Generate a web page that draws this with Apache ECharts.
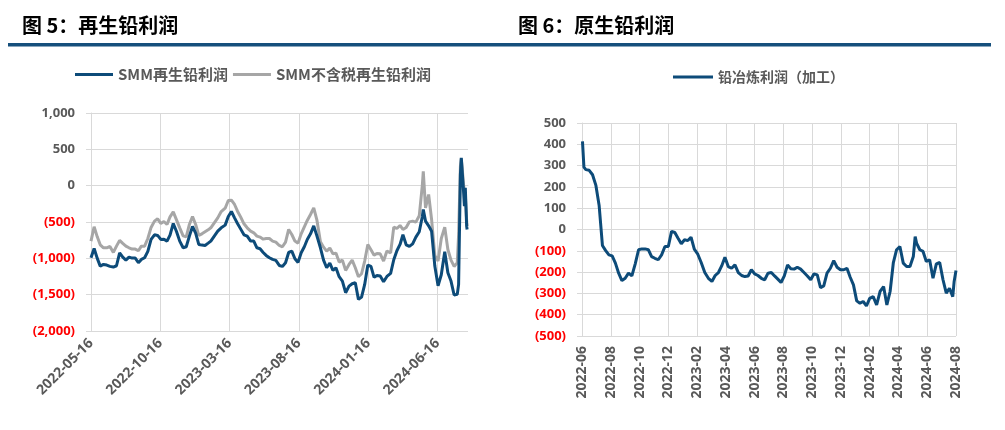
<!DOCTYPE html>
<html><head><meta charset="utf-8">
<script src="https://cdn.jsdelivr.net/npm/echarts@6/dist/echarts.min.js"></script>
<style>html,body{margin:0;padding:0;background:#fff}#c{width:1005px;height:430px}</style>
</head><body><div id="c"></div>
<script>
// ---------- Figure 5 data (weekly readings) ----------
const leftDates = [
'2022-05-16','2022-05-23','2022-05-30','2022-06-06','2022-06-13','2022-06-20','2022-06-27','2022-07-04','2022-07-11','2022-07-18',
'2022-07-25','2022-08-01','2022-08-08','2022-08-15','2022-08-22','2022-08-29','2022-09-05','2022-09-12','2022-09-19','2022-09-26',
'2022-10-03','2022-10-10','2022-10-17','2022-10-24','2022-10-31','2022-11-07','2022-11-14','2022-11-21','2022-11-28','2022-12-05',
'2022-12-12','2022-12-19','2022-12-26','2023-01-02','2023-01-09','2023-01-16','2023-01-23','2023-01-30','2023-02-06','2023-02-13',
'2023-02-20','2023-02-27','2023-03-06','2023-03-13','2023-03-20','2023-03-27','2023-04-03','2023-04-10','2023-04-17','2023-04-24',
'2023-05-01','2023-05-08','2023-05-15','2023-05-22','2023-05-29','2023-06-05','2023-06-12','2023-06-19','2023-06-26','2023-07-03',
'2023-07-10','2023-07-17','2023-07-24','2023-07-31','2023-08-07','2023-08-14','2023-08-21','2023-08-28','2023-09-04','2023-09-11',
'2023-09-18','2023-09-25','2023-10-02','2023-10-09','2023-10-16','2023-10-23','2023-10-30','2023-11-06','2023-11-13','2023-11-20',
'2023-11-27','2023-12-04','2023-12-11','2023-12-18','2023-12-25','2024-01-01','2024-01-08','2024-01-15','2024-01-22','2024-01-29',
'2024-02-05','2024-02-12','2024-02-19','2024-02-26','2024-03-04','2024-03-11','2024-03-18','2024-03-25','2024-04-01','2024-04-08',
'2024-04-15','2024-04-22','2024-04-29','2024-05-06','2024-05-13','2024-05-15','2024-05-20','2024-05-27','2024-06-03','2024-06-10','2024-06-17',
'2024-06-24','2024-07-01','2024-07-08','2024-07-15','2024-07-22',
'2024-07-29','2024-08-01','2024-08-05','2024-08-07','2024-08-09','2024-08-12','2024-08-14','2024-08-16','2024-08-19','2024-08-20'
];
const smmProfit = [
-992,-864,-1001,-1107,-1084,-1093,-1111,-1120,-1102,-924,
-983,-1024,-983,-997,-997,-1061,-1015,-992,-905,-740,
-676,-685,-740,-736,-763,-681,-520,-630,-763,-855,
-841,-694,-562,-653,-809,-818,-823,-791,-763,-694,
-626,-580,-543,-424,-356,-443,-520,-598,-676,-694,
-763,-763,-855,-868,-919,-960,-992,-1015,-1029,-1098,
-1111,-1061,-919,-900,-1006,-1056,-924,-841,-740,-663,
-553,-694,-855,-1024,-1130,-1065,-1166,-1130,-1253,-1313,
-1473,-1382,-1349,-1336,-1565,-1533,-1359,-1093,-1111,-1262,
-1235,-1244,-1322,-1249,-1207,-1020,-896,-809,-676,-814,
-836,-800,-708,-635,-420,-328,-488,-553,-626,-1107,-1377,
-1226,-910,-1198,-1313,-1505,
-1496,-1359,153,382,391,-76,-282,-30,-557,-603
];
const smmProfitExTax = [
-763,-566,-704,-814,-855,-855,-836,-919,-832,-754,
-795,-832,-855,-873,-873,-896,-832,-832,-727,-575,
-488,-456,-520,-493,-534,-429,-360,-470,-580,-690,
-704,-534,-424,-534,-685,-663,-635,-608,-580,-511,
-443,-356,-310,-204,-200,-259,-351,-433,-525,-580,
-626,-649,-694,-708,-736,-727,-727,-763,-777,-823,
-841,-777,-603,-672,-763,-791,-663,-566,-479,-397,
-305,-479,-772,-846,-900,-859,-937,-928,-1052,-1024,
-1166,-1084,-1024,-1130,-1253,-1212,-1038,-809,-882,-956,
-933,-937,-1038,-900,-924,-571,-589,-548,-603,-575,
-498,-488,-502,-415,15,198,-305,-122,-465,-960,-1038,
-727,-571,-878,-1024,-1111,
-1061,-672,267,373,244,15,-76,-122,-489,-557
];
const leftTickLabels = ['2022-05-16','2022-10-16','2023-03-16','2023-08-16','2024-01-16','2024-06-16'];
const leftAxisEnd = '2024-08-22';

// ---------- Figure 6 data (weekly readings) ----------
const rightDates = [
'2022-06-02','2022-06-05','2022-06-09','2022-06-16','2022-06-23','2022-06-30','2022-07-07','2022-07-14','2022-07-21','2022-07-28',
'2022-08-04','2022-08-11','2022-08-18','2022-08-25','2022-09-01','2022-09-08','2022-09-15','2022-09-22','2022-09-29','2022-10-06',
'2022-10-13','2022-10-20','2022-10-27','2022-11-03','2022-11-10','2022-11-17','2022-11-24','2022-12-01','2022-12-08','2022-12-15',
'2022-12-22','2022-12-29','2023-01-05','2023-01-12','2023-01-19','2023-01-26','2023-02-02','2023-02-09','2023-02-16','2023-02-23',
'2023-03-02','2023-03-09','2023-03-16','2023-03-23','2023-03-30','2023-04-06','2023-04-13','2023-04-20','2023-04-27','2023-05-04',
'2023-05-11','2023-05-18','2023-05-25','2023-06-01','2023-06-08','2023-06-15','2023-06-22','2023-06-29','2023-07-06','2023-07-13',
'2023-07-20','2023-07-27','2023-08-03','2023-08-10','2023-08-17','2023-08-24','2023-08-31','2023-09-07','2023-09-14','2023-09-21',
'2023-09-28','2023-10-05','2023-10-12','2023-10-19','2023-10-26','2023-11-02','2023-11-09','2023-11-16','2023-11-23','2023-11-30',
'2023-12-07','2023-12-14','2023-12-21','2023-12-28','2024-01-04','2024-01-11','2024-01-18','2024-01-25','2024-02-01','2024-02-08',
'2024-02-15','2024-02-22','2024-02-29','2024-03-07','2024-03-14','2024-03-21','2024-03-28','2024-04-04','2024-04-11','2024-04-18',
'2024-04-25','2024-05-02','2024-05-06','2024-05-09','2024-05-16','2024-05-23','2024-05-30','2024-06-06','2024-06-13','2024-06-20',
'2024-06-27','2024-07-04','2024-07-11','2024-07-18','2024-07-25','2024-07-28','2024-08-01'
];
const smeltProfit = [
414,293,281,278,257,207,111,-75,-99,-119,
-124,-158,-205,-240,-229,-205,-218,-161,-95,-91,
-91,-95,-127,-135,-142,-119,-80,-80,-9,-14,
-41,-67,-48,-52,-36,-92,-114,-155,-202,-229,
-244,-216,-202,-171,-130,-174,-182,-166,-202,-216,
-221,-218,-189,-208,-216,-229,-236,-205,-202,-218,
-233,-249,-218,-166,-184,-186,-177,-186,-202,-218,
-236,-208,-213,-273,-265,-205,-182,-146,-177,-189,
-189,-182,-224,-260,-335,-346,-338,-359,-323,-315,
-354,-291,-268,-354,-291,-155,-95,-80,-158,-174,
-174,-127,-33,-64,-95,-103,-150,-142,-229,-161,
-155,-236,-299,-276,-315,-244,-193
];
const rightTickLabels = ['2022-06','2022-08','2022-10','2022-12','2023-02','2023-04','2023-06','2023-08','2023-10','2023-12','2024-02','2024-04','2024-06','2024-08'];

// ---------- helpers ----------
function daysIn(y, m) { return new Date(y, m, 0).getDate(); }
function monthOffset(s, y0, m0, d0) {
  const p = s.split('-').map(Number);
  return (p[0] - y0) * 12 + (p[1] - m0) + (p[2] - d0) / daysIn(p[0], p[1]);
}
const lm = s => monthOffset(s, 2022, 5, 16);
const rm = s => monthOffset(s, 2022, 6, 1);
function commas(n) { return String(n).replace(/\B(?=(\d{3})+(?!\d))/g, ','); }
function yFmt(v) { const a = commas(Math.abs(v)); return v < 0 ? '{n|(' + a + ')}' : '{p|' + a + '}'; }

const GRAY_TXT = '#595959';
const GRID_C = '#D9D9D9';
const BLUE = '#0D4B79';
const LGRAY = '#A6A6A6';
const NUMFONT = 'Open Sans';
const CJK = 'Noto Sans CJK SC';
const richY = {
  p: { color: GRAY_TXT, fontSize: 13, fontWeight: 'bold', fontFamily: NUMFONT },
  n: { color: '#FF0000', fontSize: 13, fontWeight: 'bold', fontFamily: NUMFONT }
};

const chart = echarts.init(document.getElementById('c'), null, { renderer: 'canvas' });
chart.setOption({
  animation: false,
  backgroundColor: '#fff',
  graphic: [
    { type: 'rect', shape: { x: 8, y: 43, width: 983, height: 3.5 }, style: { fill: '#154F7C' } },
    { type: 'text', left: 22, top: 15, style: { text: '图 5：再生铅利润', font: 'bold 20px "Noto Sans CJK SC"', fill: '#000' } },
    { type: 'text', left: 518, top: 15, style: { text: '图 6：原生铅利润', font: 'bold 20px "Noto Sans CJK SC"', fill: '#000' } }
  ],
  legend: [
    { data: ['SMM再生铅利润', 'SMM不含税再生铅利润'], left: 70, top: 62, icon: 'rect', itemWidth: 38, itemHeight: 3, itemGap: 5,
      textStyle: { fontSize: 15, fontWeight: 'bold', color: GRAY_TXT, fontFamily: CJK } },
    { data: ['铅冶炼利润（加工）'], left: 668, top: 65, icon: 'rect', itemWidth: 40, itemHeight: 3,
      textStyle: { fontSize: 14, fontWeight: 'bold', color: GRAY_TXT, fontFamily: CJK } }
  ],
  grid: [
    { left: 91, right: 537, top: 113, bottom: 99 },
    { left: 582, right: 49, top: 123, bottom: 94 }
  ],
  xAxis: [
    { type: 'value', gridIndex: 0, min: 0, max: lm(leftAxisEnd), interval: 5,
      axisLine: { show: true, lineStyle: { color: GRID_C, width: 1 } },
      axisTick: { show: false }, splitLine: { show: false },
      axisLabel: { rotate: 45, margin: 10, color: GRAY_TXT, fontSize: 14, fontWeight: 'bold', fontFamily: NUMFONT,
        formatter: v => { const k = v / 5; return Math.abs(k - Math.round(k)) < 1e-6 ? (leftTickLabels[Math.round(k)] || '') : ''; } } },
    { type: 'value', gridIndex: 1, min: 0, max: 26, interval: 2,
      axisLine: { show: true, lineStyle: { color: GRID_C, width: 1 } },
      axisTick: { show: false },
      splitLine: { show: true, lineStyle: { color: GRID_C, width: 1 } },
      axisLabel: { rotate: 90, margin: 10, color: GRAY_TXT, fontSize: 14, fontWeight: 'bold', fontFamily: NUMFONT,
        formatter: v => rightTickLabels[Math.round(v / 2)] || '' } }
  ],
  yAxis: [
    { type: 'value', gridIndex: 0, min: -2000, max: 1000, interval: 500,
      axisLine: { show: true, lineStyle: { color: GRID_C, width: 1 } },
      axisTick: { show: true, length: 5, lineStyle: { color: GRID_C } },
      splitLine: { show: true, lineStyle: { color: GRID_C, width: 1 } },
      axisLabel: { margin: 16, formatter: yFmt, rich: richY } },
    { type: 'value', gridIndex: 1, min: -500, max: 500, interval: 100,
      axisLine: { show: true, lineStyle: { color: GRID_C, width: 1 } },
      axisTick: { show: true, length: 5, lineStyle: { color: GRID_C } },
      splitLine: { show: true, lineStyle: { color: GRID_C, width: 1 } },
      axisLabel: { margin: 16, formatter: yFmt, rich: richY } }
  ],
  series: [
    { type: 'line', xAxisIndex: 0, yAxisIndex: 0, data: [], silent: true, z: 1,
      markLine: { silent: true, symbol: 'none', z: 1, animation: false, label: { show: false },
        lineStyle: { color: GRID_C, type: 'solid', width: 1 },
        data: leftTickLabels.slice(1).map(l => ({ xAxis: lm(l) })) } },
    { name: 'SMM不含税再生铅利润', type: 'line', xAxisIndex: 0, yAxisIndex: 0, z: 2,
      data: leftDates.map((d, i) => [lm(d), smmProfitExTax[i]]),
      showSymbol: false, symbol: 'none', lineStyle: { width: 3, color: LGRAY }, itemStyle: { color: LGRAY } },
    { name: 'SMM再生铅利润', type: 'line', xAxisIndex: 0, yAxisIndex: 0, z: 3,
      data: leftDates.map((d, i) => [lm(d), smmProfit[i]]),
      showSymbol: false, symbol: 'none', lineStyle: { width: 3, color: BLUE }, itemStyle: { color: BLUE } },
    { name: '铅冶炼利润（加工）', type: 'line', xAxisIndex: 1, yAxisIndex: 1, z: 3,
      data: rightDates.map((d, i) => [rm(d), smeltProfit[i]]),
      showSymbol: false, symbol: 'none', lineStyle: { width: 3, color: BLUE }, itemStyle: { color: BLUE } }
  ]
});
</script>
</body></html>
